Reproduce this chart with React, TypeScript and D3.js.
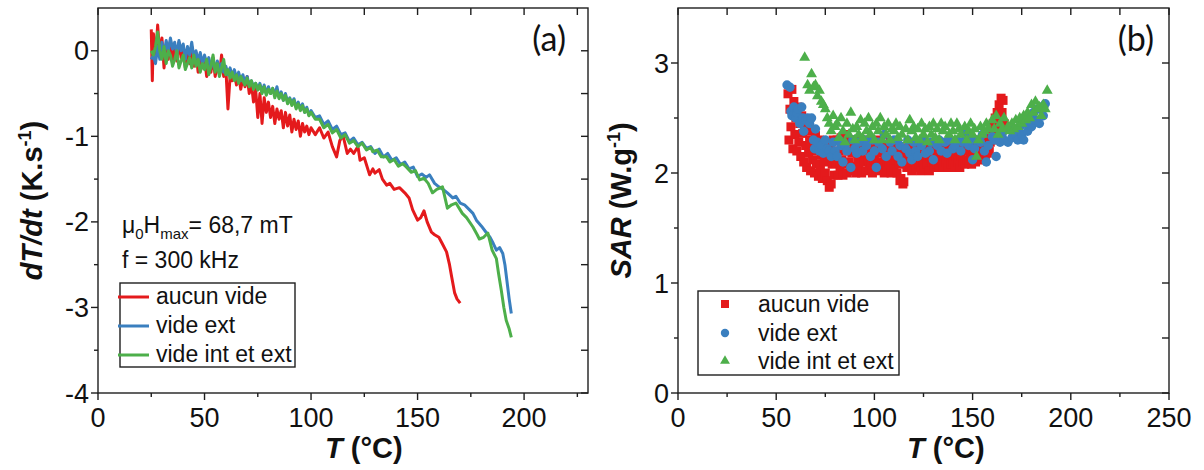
import React from 'react';
import * as d3 from 'd3';

const FONT = "'Liberation Sans', Arial, Helvetica, sans-serif";
const LABEL_FONT = "Lato, 'Open Sans', 'DejaVu Sans', sans-serif";
const RED = '#e41a1c';
const BLUE = '#3a7fbf';
const GREEN = '#4daf4a';
const AXIS = '#1e1e1e';

const seriesNames = ['aucun vide', 'vide ext', 'vide int et ext'];

// Panel (a): dT/dt (K.s-1) vs T (°C)
const aRed: [number, number][] = [
  [25, 0.25], [25.5, -0.35], [26, 0.2], [27, -0.1], [28, 0.3], [29, -0.05], [30, 0.15], [31, -0.2], [32, 0.05], [33, -0.1],
  [34, 0.12], [35, -0.15], [36, 0.02], [37, -0.12], [38, 0.1], [39, -0.08], [40, 0.05], [41, -0.2], [42, 0.0], [43, -0.15],
  [44, 0.05], [45, -0.18], [46, -0.02], [47, -0.25], [48, -0.05], [49, -0.2], [50, -0.08], [51, -0.3], [52, -0.12], [53, -0.25],
  [54, -0.08], [55, -0.3], [56, -0.15], [57, -0.28], [58, -0.05], [59, -0.3], [60, -0.2], [61, -0.68], [62, -0.3], [63, -0.35],
  [64, -0.25], [65, -0.4], [66, -0.28], [67, -0.45], [68, -0.32], [69, -0.42], [70, -0.3], [71, -0.5], [72, -0.38], [73, -0.6],
  [74, -0.45], [75, -0.78], [76, -0.5], [77, -0.85], [78, -0.55], [79, -0.72], [80, -0.6], [81, -0.78], [82, -0.65], [83, -0.85],
  [84, -0.68], [85, -0.8], [86, -0.7], [87, -0.9], [88, -0.72], [89, -0.88], [90, -0.75], [91, -0.95], [92, -0.8], [93, -0.92],
  [94, -0.82], [95, -1.0], [96, -0.85], [97, -0.95], [98, -0.88], [99, -0.98], [100, -0.9], [102, -0.98], [104, -0.9], [106, -1.02],
  [108, -0.95], [110, -1.12], [112, -1.24], [113.5, -1.05], [115, -0.99], [117, -1.2], [118.5, -1.15], [120, -1.2], [122, -1.12],
  [123, -1.28], [125, -1.25], [127.5, -1.45], [129, -1.38], [130, -1.43], [132, -1.39], [133.5, -1.5], [135.5, -1.57], [137, -1.55],
  [139, -1.62], [141.5, -1.6], [144, -1.66], [146, -1.72], [147.7, -1.86], [150, -1.98], [151.5, -1.95], [153, -1.87], [154.5, -2.0],
  [156.5, -2.12], [158, -2.15], [160, -2.18], [161.5, -2.25], [163.6, -2.35], [165, -2.5], [166, -2.64], [167.4, -2.83], [168.5, -2.9],
  [170, -2.95],
];

const aBlue: [number, number][] = [
  [25, -0.1], [26, -0.05], [27, -0.15], [28, 0.05], [29, -0.1], [30, 0.1], [31, -0.05], [32, 0.12], [33, 0.0], [34, 0.15],
  [35, 0.02], [36, 0.1], [37, -0.05], [38, 0.12], [39, 0.0], [40, 0.08], [41, -0.1], [42, 0.05], [43, -0.05], [44, 0.1],
  [45, -0.08], [46, 0.0], [47, -0.12], [48, -0.02], [49, -0.15], [50, -0.05], [51, -0.15], [52, -0.08], [53, -0.2], [54, -0.1],
  [55, -0.22], [56, -0.12], [57, -0.2], [58, -0.15], [59, -0.25], [60, -0.18], [61, -0.28], [62, -0.2], [63, -0.3], [64, -0.22],
  [65, -0.32], [66, -0.25], [67, -0.35], [68, -0.28], [69, -0.38], [70, -0.3], [71, -0.4], [72, -0.35], [73, -0.42], [74, -0.38],
  [75, -0.45], [76, -0.38], [77, -0.48], [78, -0.4], [79, -0.5], [80, -0.42], [81, -0.5], [82, -0.44], [83, -0.52], [84, -0.42],
  [85, -0.55], [86, -0.48], [87, -0.58], [88, -0.5], [89, -0.6], [90, -0.55], [91, -0.62], [92, -0.56], [93, -0.66], [94, -0.6],
  [95, -0.68], [96, -0.62], [97, -0.72], [98, -0.66], [99, -0.75], [100, -0.7], [102, -0.78], [104, -0.76], [106, -0.86], [108, -0.82],
  [110, -0.92], [112, -0.88], [114, -0.98], [116, -0.96], [118, -1.06], [120, -1.02], [122, -1.1], [124, -1.07], [126, -1.14],
  [128, -1.12], [130, -1.2], [132, -1.15], [134, -1.24], [136, -1.2], [138, -1.28], [140, -1.25], [142, -1.33], [144, -1.3],
  [146, -1.38], [148, -1.36], [150, -1.47], [152, -1.44], [154, -1.48], [155.6, -1.45], [158, -1.55], [160, -1.59], [162, -1.62],
  [164, -1.66], [166.5, -1.72], [168, -1.7], [170, -1.78], [172, -1.8], [174.4, -1.86], [176, -1.9], [177.6, -1.98], [180, -2.05],
  [182.4, -2.13], [184, -2.18], [185.5, -2.25], [187, -2.33], [188.5, -2.3], [190, -2.37], [191, -2.5], [192, -2.7], [193, -2.9],
  [194, -3.07],
];

const aGreen: [number, number][] = [
  [25, 0.0], [26, -0.05], [27, 0.05], [28, 0.22], [29, 0.0], [30, -0.1], [31, 0.05], [32, -0.15], [33, 0.0], [34, -0.05],
  [35, -0.18], [36, -0.1], [37, 0.0], [38, -0.2], [39, -0.12], [40, -0.05], [41, -0.22], [42, -0.15], [43, -0.08], [44, -0.2],
  [45, -0.05], [46, -0.18], [47, -0.1], [48, -0.25], [49, -0.15], [50, -0.22], [51, -0.1], [52, -0.28], [53, -0.18], [54, -0.05],
  [55, -0.25], [56, -0.15], [57, -0.3], [58, -0.2], [59, -0.1], [60, -0.28], [61, -0.22], [62, -0.32], [63, -0.25], [64, -0.35],
  [65, -0.28], [66, -0.38], [67, -0.3], [68, -0.35], [69, -0.4], [70, -0.32], [71, -0.42], [72, -0.35], [73, -0.45], [74, -0.38],
  [75, -0.46], [76, -0.4], [77, -0.5], [78, -0.42], [79, -0.52], [80, -0.45], [81, -0.5], [82, -0.44], [83, -0.55], [84, -0.47],
  [85, -0.56], [86, -0.5], [87, -0.58], [88, -0.52], [89, -0.62], [90, -0.56], [91, -0.64], [92, -0.58], [93, -0.68], [94, -0.62],
  [95, -0.7], [96, -0.64], [97, -0.72], [98, -0.68], [99, -0.76], [100, -0.72], [102, -0.8], [104, -0.8], [106, -0.9], [108, -0.86],
  [110, -0.96], [112, -0.92], [114, -1.02], [116, -0.98], [118, -1.08], [120, -1.05], [122, -1.12], [124, -1.08], [126, -1.16],
  [128, -1.13], [129, -1.18], [131, -1.16], [133, -1.24], [135.5, -1.24], [137, -1.3], [139, -1.27], [141, -1.35], [143, -1.32],
  [144.8, -1.36], [147, -1.42], [149, -1.4], [151, -1.51], [153, -1.49], [155, -1.55], [157, -1.66], [159, -1.62], [161.7, -1.59],
  [164, -1.84], [166, -1.8], [168, -1.78], [170, -1.86], [171, -1.9], [173, -1.95], [176, -2.06], [178, -2.15], [179, -2.2],
  [181, -2.18], [183, -2.13], [185, -2.33], [187, -2.43], [188, -2.6], [189.3, -2.8], [190.5, -3.0], [191.6, -3.15], [193, -3.25],
  [194, -3.35],
];

// Panel (b): SAR (W.g-1) vs T (°C)
const bRed: [number, number][] = [
  [56, 2.72], [56.5, 2.3], [57, 2.58], [57.5, 2.42], [58, 2.76], [58.5, 2.22], [59, 2.65], [59.5, 2.35], [60, 2.5], [60.5, 2.2],
  [61, 2.6], [61.5, 2.28], [62, 2.45], [62.5, 2.15], [63, 2.52], [63.5, 2.36], [64, 2.1], [64.5, 2.44], [65, 2.25], [65.5, 2.05],
  [66, 2.4], [66.5, 2.18], [67, 2.3], [67.5, 2.02], [68, 2.38], [68.5, 2.12], [69, 2.25], [69.5, 2.0], [70, 2.34], [70.5, 2.08],
  [71, 2.2], [71.5, 1.97], [72, 2.3], [72.5, 2.05], [73, 2.16], [73.5, 1.95], [74, 2.28], [74.5, 2.1], [75, 2.0], [75.5, 2.22],
  [76, 1.93], [76.5, 2.15], [77, 1.87], [77.5, 2.25], [78, 1.9], [78.5, 2.08], [79, 2.3], [79.5, 1.98], [80, 2.18],
  [80.5, 2.1], [81, 2.3], [81.5, 1.98], [82, 2.2], [82.5, 2.05], [83, 2.32], [83.5, 2.12], [84, 1.98], [84.5, 2.25], [85, 2.08],
  [85.5, 2.35], [86, 2.0], [86.5, 2.2], [87, 2.1], [87.5, 2.3], [88, 2.02], [88.5, 2.18], [89, 2.28], [89.5, 2.06], [90, 2.22],
  [90.5, 2.0], [91, 2.3], [91.5, 2.12], [92, 2.05], [92.5, 2.25], [93, 2.15], [93.5, 2.0], [94, 2.28], [94.5, 2.1], [95, 2.2],
  [95.5, 2.02], [96, 2.3], [96.5, 2.12], [97, 2.22], [97.5, 2.05], [98, 2.28], [98.5, 2.1], [99, 2.0], [99.5, 2.2], [100, 2.12],
  [100.5, 2.28], [101, 2.05], [101.5, 2.2], [102, 2.1], [102.5, 2.3], [103, 2.02], [103.5, 2.18], [104, 2.08], [104.5, 2.25],
  [105, 2.0], [105.5, 2.15], [106, 2.25], [106.5, 2.05], [107, 2.2], [107.5, 2.1], [108, 2.28], [108.5, 2.0], [109, 2.15],
  [109.5, 2.22], [110, 2.05], [110.5, 2.25], [111, 2.12], [111.5, 2.0], [112, 2.2], [112.5, 2.08], [113, 1.93], [113.5, 1.95],
  [114, 2.15], [114.5, 1.9], [115, 1.92], [115.5, 2.1], [116, 2.22], [116.5, 2.05], [117, 2.15], [117.5, 2.25], [118, 2.08],
  [118.5, 2.18], [119, 2.02], [119.5, 2.22], [120, 2.1], [120.5, 2.25], [121, 2.05], [121.5, 2.15], [122, 2.22], [122.5, 2.08],
  [123, 2.18], [123.5, 2.02], [124, 2.25], [124.5, 2.1], [125, 2.2], [125.5, 2.05], [126, 2.15], [126.5, 2.25], [127, 2.08],
  [127.5, 2.2], [128, 2.02], [128.5, 2.15], [129, 2.25], [129.5, 2.1], [130, 2.2], [130.5, 2.05], [131, 2.18], [131.5, 2.25],
  [132, 2.08], [132.5, 2.15], [133, 2.05], [133.5, 2.22], [134, 2.12], [134.5, 2.2], [135, 2.05], [135.5, 2.15], [136, 2.25],
  [136.5, 2.1], [137, 2.2], [137.5, 2.05], [138, 2.15], [138.5, 2.25], [139, 2.08], [139.5, 2.2], [140, 2.1], [140.5, 2.22],
  [141, 2.05], [141.5, 2.15], [142, 2.28], [142.5, 2.1], [143, 2.2], [143.5, 2.05], [144, 2.15], [144.5, 2.25], [145, 2.1],
  [145.5, 2.2], [146, 2.08], [146.5, 2.25], [147, 2.12], [147.5, 2.2], [148, 2.1], [148.5, 2.28], [149, 2.15], [149.5, 2.08],
  [150, 2.22], [150.5, 2.12], [151, 2.25], [151.5, 2.1], [152, 2.2], [152.5, 2.3], [153, 2.12], [153.5, 2.22], [154, 2.15],
  [154.5, 2.28], [155, 2.12], [155.5, 2.2], [156, 2.3], [156.5, 2.15], [157, 2.25], [157.5, 2.18], [158, 2.32], [158.5, 2.2],
  [159, 2.28], [159.5, 2.4], [160, 2.3], [160.5, 2.45], [161, 2.35], [161.5, 2.5], [162, 2.38], [162.5, 2.55], [163, 2.42],
  [163.5, 2.62], [164, 2.5], [164.5, 2.68], [165, 2.55], [165.5, 2.66], [166, 2.45],
];

const bBlue: [number, number][] = [
  [55.5, 2.8], [57, 2.78], [57.5, 2.56], [58, 2.52], [59, 2.6], [60, 2.5], [60.5, 2.55], [61, 2.58], [62, 2.45], [63, 2.6],
  [63.5, 2.5], [64, 2.38], [65, 2.48], [66, 2.5], [67, 2.45], [68, 2.5], [69, 2.3], [69.5, 2.22], [70, 2.4], [71, 2.28],
  [72, 2.2], [73, 2.25], [74, 2.18], [75, 2.3], [76, 2.22], [77, 2.2], [78, 2.15], [79, 2.28], [80, 2.2], [81, 2.15],
  [82, 2.3], [83, 2.25], [84, 2.1], [85, 2.25], [86, 2.2], [88, 2.05], [89, 2.3], [90, 2.22], [91, 2.18], [92, 2.28],
  [94, 2.2], [95, 2.3], [96, 2.25], [98, 2.15], [99, 2.3], [100, 2.2], [101, 2.05], [102, 2.28], [104, 2.22], [105, 2.35],
  [106, 2.15], [108, 2.28], [109, 2.2], [110, 2.3], [112, 2.15], [113, 2.25], [114, 2.1], [116, 2.22], [117, 2.3], [118, 2.18],
  [119, 2.12], [120, 2.28], [121, 2.2], [122, 2.15], [124, 2.25], [125, 2.3], [126, 2.18], [128, 2.2], [129, 2.28], [130, 2.12],
  [132, 2.25], [133, 2.3], [134, 2.2], [136, 2.28], [137, 2.18], [138, 2.3], [140, 2.22], [141, 2.25], [142, 2.3], [144, 2.2],
  [145, 2.28], [146, 2.35], [148, 2.25], [149, 2.3], [150, 2.12], [151, 2.22], [152, 2.3], [154, 2.28], [155, 2.35], [156, 2.2],
  [157, 2.1], [158, 2.25], [160, 2.33], [161, 2.3], [162, 2.15], [164, 2.28], [165, 2.35], [166, 2.3], [168, 2.28], [169, 2.4],
  [170, 2.32], [172, 2.35], [173, 2.3], [174, 2.42], [175, 2.35], [176, 2.3], [177, 2.45], [178, 2.38], [179, 2.5], [180, 2.42],
  [181, 2.55], [182, 2.48], [183, 2.58], [184, 2.45], [185, 2.6], [186, 2.52], [187, 2.63],
];

const bGreen: [number, number][] = [
  [64.5, 3.05], [66, 2.8], [67, 2.75], [68, 2.9], [69, 2.78], [70, 2.8], [71, 2.7], [72, 2.75], [73, 2.65], [74, 2.62],
  [75, 2.58], [76, 2.5], [77, 2.45], [78, 2.38], [79, 2.52], [80, 2.42], [81, 2.45], [82, 2.32], [83, 2.5], [84, 2.38],
  [85, 2.28], [86, 2.45], [87, 2.35], [88, 2.55], [89, 2.4], [90, 2.3], [91, 2.42], [92, 2.35], [93, 2.48], [94, 2.32],
  [95, 2.45], [96, 2.38], [97, 2.5], [98, 2.35], [99, 2.42], [100, 2.3], [101, 2.45], [102, 2.38], [103, 2.5], [104, 2.3],
  [105, 2.42], [106, 2.35], [107, 2.45], [108, 2.3], [109, 2.4], [110, 2.38], [111, 2.45], [112, 2.32], [113, 2.42], [114, 2.35],
  [116, 2.4], [117, 2.3], [118, 2.48], [119, 2.38], [120, 2.42], [121, 2.32], [122, 2.4], [123, 2.3], [124, 2.45], [125, 2.35],
  [126, 2.4], [127, 2.28], [128, 2.42], [129, 2.35], [130, 2.45], [131, 2.32], [132, 2.4], [133, 2.3], [134, 2.45], [135, 2.38],
  [136, 2.42], [138, 2.35], [139, 2.45], [140, 2.38], [141, 2.3], [142, 2.45], [143, 2.4], [144, 2.35], [146, 2.42], [147, 2.3],
  [148, 2.38], [149, 2.45], [150, 2.35], [151, 2.4], [152, 2.15], [153, 2.3], [154, 2.42], [155, 2.35], [156, 2.38], [157, 2.45],
  [158, 2.4], [160, 2.48], [161, 2.4], [162, 2.52], [163, 2.35], [164, 2.45], [165, 2.4], [166, 2.5], [168, 2.42], [169, 2.38],
  [170, 2.45], [171, 2.4], [172, 2.48], [173, 2.42], [174, 2.5], [175, 2.45], [176, 2.52], [177, 2.48], [178, 2.55], [179, 2.5],
  [180, 2.62], [181, 2.55], [182, 2.65], [183, 2.58], [184, 2.6], [185, 2.52], [186, 2.62], [187, 2.58], [188, 2.75],
];

const aXTicks = [0, 50, 100, 150, 200];
const aXMinor = [25, 75, 125, 175, 225];
const aYTicks = [0, -1, -2, -3, -4];
const aYMinor = [-0.5, -1.5, -2.5, -3.5];
const bXTicks = [0, 50, 100, 150, 200, 250];
const bXMinor = [25, 75, 125, 175, 225];
const bYTicks = [0, 1, 2, 3];
const bYMinor = [0.5, 1.5, 2.5];

type Box = { left: number; right: number; top: number; bottom: number };

function Frame({ box, x, y, xTicks, xMinor, yTicks, yMinor }: {
  box: Box; x: d3.ScaleLinear<number, number>; y: d3.ScaleLinear<number, number>;
  xTicks: number[]; xMinor: number[]; yTicks: number[]; yMinor: number[];
}) {
  const sw = 1.4;
  return (
    <g>
      <rect x={box.left} y={box.top} width={box.right - box.left} height={box.bottom - box.top}
        fill="none" stroke={AXIS} strokeWidth={sw} />
      {xTicks.concat(xMinor).map((t) => {
        const major = xTicks.includes(t);
        const px = x(t);
        return (
          <g key={'x' + t}>
            <line x1={px} x2={px} y1={box.bottom} y2={box.bottom + (major ? 7 : 4)} stroke={AXIS} strokeWidth={sw} />
            <line x1={px} x2={px} y1={box.top} y2={box.top + 7} stroke={AXIS} strokeWidth={sw} />
          </g>
        );
      })}
      {yTicks.concat(yMinor).map((t) => {
        const major = yTicks.includes(t);
        const py = y(t);
        return (
          <g key={'y' + t}>
            <line x1={box.left - (major ? 7 : 4)} x2={box.left} y1={py} y2={py} stroke={AXIS} strokeWidth={sw} />
            <line x1={box.right - 7} x2={box.right} y1={py} y2={py} stroke={AXIS} strokeWidth={sw} />
          </g>
        );
      })}
      {xTicks.map((t) => (
        <text key={'xl' + t} x={x(t)} y={box.bottom + 34} textAnchor="middle" fontSize={27} fontFamily={FONT} fill="#111">{t}</text>
      ))}
      {yTicks.map((t) => (
        <text key={'yl' + t} x={box.left - 9} y={y(t) + 9.5} textAnchor="end" fontSize={27} fontFamily={FONT} fill="#111">{t}</text>
      ))}
    </g>
  );
}

export default function App() {
  const boxA: Box = { left: 98, right: 588, top: 8, bottom: 393 };
  const boxB: Box = { left: 678, right: 1169, top: 8, bottom: 393 };
  const xA = d3.scaleLinear().domain([0, 230]).range([boxA.left, boxA.right]);
  const yA = d3.scaleLinear().domain([-4, 0.5]).range([boxA.bottom, boxA.top]);
  const xB = d3.scaleLinear().domain([0, 250]).range([boxB.left, boxB.right]);
  const yB = d3.scaleLinear().domain([0, 3.5]).range([boxB.bottom, boxB.top]);

  const lineA = d3.line<[number, number]>().x((d) => xA(d[0])).y((d) => yA(d[1]));
  const tri = d3.symbol(d3.symbolTriangle, 52)() as string;
  const triLeg = d3.symbol(d3.symbolTriangle, 42)() as string;

  const aSeries: [[number, number][], string][] = [[aRed, RED], [aBlue, BLUE], [aGreen, GREEN]];
  const legColors = [RED, BLUE, GREEN];
  const sq = 9;

  return (
    <svg width={1204} height={470} style={{ position: 'absolute', left: 0, top: 0, background: '#fff' }}>
      <rect x={0} y={0} width={1204} height={470} fill="#fff" />
      {/* Panel (a) */}
      {aSeries.map(([data, color], i) => (
        <path key={'la' + i} d={lineA(data) as string} fill="none" stroke={color} strokeWidth={3} strokeLinejoin="round" />
      ))}
      <Frame box={boxA} x={xA} y={yA} xTicks={aXTicks} xMinor={aXMinor} yTicks={aYTicks} yMinor={aYMinor} />
      <text x={566} y={51} textAnchor="end" fontSize={34} fontFamily={LABEL_FONT} fill="#111">(a)</text>
      <text x={122} y={233} fontSize={23} fontFamily={FONT} fill="#111">
        <tspan>μ</tspan>
        <tspan dy={6} fontSize={15}>0</tspan>
        <tspan dy={-6}>H</tspan>
        <tspan dy={6} fontSize={15}>max</tspan>
        <tspan dy={-6}>= 68,7 mT</tspan>
      </text>
      <text x={122} y={268} fontSize={23} fontFamily={FONT} fill="#111">f = 300 kHz</text>
      <rect x={120} y={283} width={175} height={84} fill="#fff" stroke={AXIS} strokeWidth={1.4} />
      {seriesNames.map((n, i) => (
        <g key={'lga' + i}>
          <line x1={118} x2={149} y1={297 + i * 29} y2={297 + i * 29} stroke={legColors[i]} strokeWidth={3} />
          <text x={156} y={304 + i * 29} fontSize={23} fontFamily={FONT} fill="#111">{n}</text>
        </g>
      ))}
      <text x={325} y={458} fontSize={29} fontWeight="bold" fontFamily={FONT} fill="#111">
        <tspan fontStyle="italic">T</tspan> (°C)
      </text>
      <text transform={`translate(42,${(boxA.top + boxA.bottom) / 2}) rotate(-90)`} textAnchor="middle"
        fontSize={29} fontWeight="bold" fontFamily={FONT} fill="#111">
        <tspan fontStyle="italic">dT/dt</tspan>
        <tspan> (K.s</tspan>
        <tspan dy={-11} fontSize={18}>-1</tspan>
        <tspan dy={11}>)</tspan>
      </text>

      {/* Panel (b) */}
      {bRed.map((d, i) => (
        <rect key={'r' + i} x={xB(d[0]) - sq / 2} y={yB(d[1]) - sq / 2} width={sq} height={sq} fill={RED} />
      ))}
      {bBlue.map((d, i) => (
        <circle key={'c' + i} cx={xB(d[0])} cy={yB(d[1])} r={4.7} fill={BLUE} />
      ))}
      {bGreen.map((d, i) => (
        <path key={'t' + i} d={tri} transform={`translate(${xB(d[0])},${yB(d[1])})`} fill={GREEN} />
      ))}
      <Frame box={boxB} x={xB} y={yB} xTicks={bXTicks} xMinor={bXMinor} yTicks={bYTicks} yMinor={bYMinor} />
      <text x={1154} y={51} textAnchor="end" fontSize={34} fontFamily={LABEL_FONT} fill="#111">(b)</text>
      <rect x={698} y={291} width={201} height={84} fill="#fff" stroke={AXIS} strokeWidth={1.4} />
      <rect x={721} y={300} width={8} height={8} fill={RED} />
      <circle cx={725} cy={333} r={4.2} fill={BLUE} />
      <path d={triLeg} transform="translate(725,361)" fill={GREEN} />
      {seriesNames.map((n, i) => (
        <text key={'lgb' + i} x={758} y={312 + i * 28.5} fontSize={23} fontFamily={FONT} fill="#111">{n}</text>
      ))}
      <text x={907} y={458} fontSize={29} fontWeight="bold" fontFamily={FONT} fill="#111">
        <tspan fontStyle="italic">T</tspan> (°C)
      </text>
      <text transform={`translate(631,${(boxB.top + boxB.bottom) / 2}) rotate(-90)`} textAnchor="middle"
        fontSize={29} fontWeight="bold" fontFamily={FONT} fill="#111">
        <tspan fontStyle="italic">SAR</tspan>
        <tspan> (W.g</tspan>
        <tspan dy={-11} fontSize={18}>-1</tspan>
        <tspan dy={11}>)</tspan>
      </text>
    </svg>
  );
}
